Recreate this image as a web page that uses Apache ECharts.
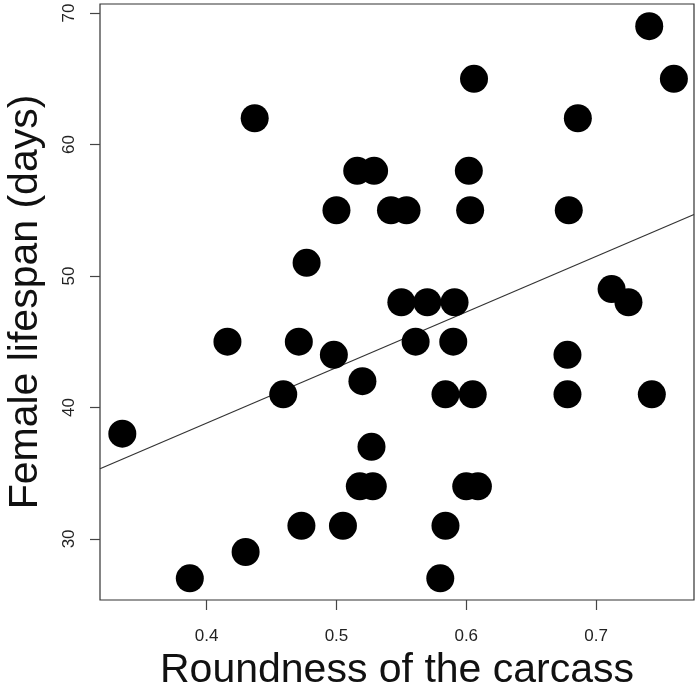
<!DOCTYPE html>
<html><head><meta charset="utf-8">
<script src="https://cdn.jsdelivr.net/npm/echarts@6/dist/echarts.min.js"></script>
<style>html,body{margin:0;padding:0;background:#fff}#c{width:700px;height:683px}</style>
</head><body><div id="c"></div>
<script>
var roundness = [0.335,0.387,0.416,0.430,0.437,0.459,0.471,0.473,0.477,0.498,0.500,0.505,0.516,0.518,0.520,0.527,0.528,0.529,0.542,0.550,0.554,0.561,0.570,0.580,0.584,0.584,0.590,0.591,0.600,0.602,0.603,0.605,0.606,0.609,0.678,0.678,0.679,0.686,0.712,0.725,0.741,0.743,0.760];
var lifespan  = [38,27,45,29,62,41,45,31,51,44,55,31,58,34,42,37,34,58,55,48,55,45,48,27,41,31,45,48,34,58,55,41,65,34,44,41,55,62,49,48,69,41,65];
var fitX = [0.3178, 0.7755];
var fitY = [35.33, 54.68];
var xTicks = [0.4,0.5,0.6,0.7];
var yTicks = [30,40,50,60,70];
var xLim = [0.3178, 0.7755];
var yLim = [25.35, 70.69];

var pts = roundness.map(function(x,i){return [x, lifespan[i]];});
var fit = fitX.map(function(x,i){return [x, fitY[i]];});
var chart = echarts.init(document.getElementById('c'), null, {renderer:'canvas'});
var lblFont = 'Liberation Sans, Arial, sans-serif';
chart.setOption({
  animation:false,
  grid:{left:100,right:6,top:4,bottom:83,containLabel:false,outerBoundsMode:'none',show:true,borderColor:'#333',borderWidth:1.2,backgroundColor:'transparent'},
  xAxis:{type:'value',min:xLim[0],max:xLim[1],
    name:'Roundness of the carcass',nameLocation:'middle',nameGap:37,
    nameTextStyle:{fontFamily:lblFont,fontSize:41,color:'#111'},
    axisLine:{show:false},
    axisTick:{show:true,inside:false,length:10,customValues:xTicks,lineStyle:{color:'#444',width:1.2}},
    axisLabel:{customValues:xTicks,margin:28,fontFamily:lblFont,fontSize:17,color:'#222',formatter:function(v){return v.toFixed(1);}},
    splitLine:{show:false}},
  yAxis:{type:'value',min:yLim[0],max:yLim[1],
    name:'Female lifespan (days)',nameLocation:'middle',nameGap:54,nameRotate:90,
    nameTextStyle:{fontFamily:lblFont,fontSize:41,color:'#111'},
    axisLine:{show:false},
    axisTick:{show:true,inside:false,length:10,customValues:yTicks,lineStyle:{color:'#444',width:1.2}},
    axisLabel:{customValues:yTicks,margin:22,rotate:90,fontFamily:lblFont,fontSize:17,color:'#222'},
    splitLine:{show:false}},
  series:[
    {type:'line',data:fit,showSymbol:false,symbol:'none',lineStyle:{color:'#333',width:1.2},z:1,silent:true},
    {type:'scatter',data:pts,symbol:'circle',symbolSize:28,itemStyle:{color:'#000',opacity:1},z:2}
  ]
});
</script></body></html>
